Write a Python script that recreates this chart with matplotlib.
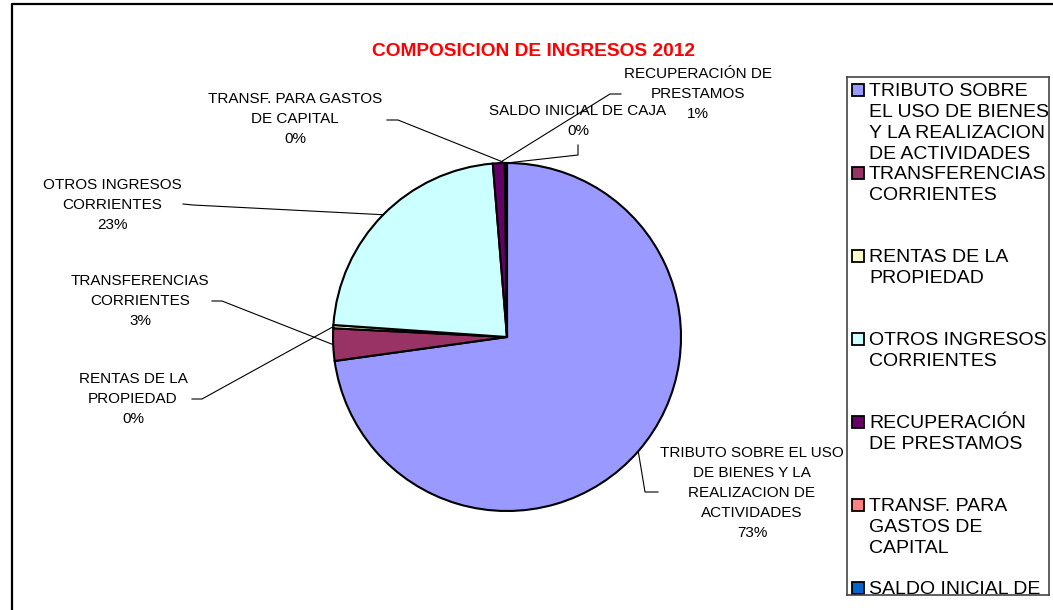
import matplotlib
matplotlib.use("Agg")
import matplotlib.pyplot as plt
from matplotlib.patches import Rectangle
import numpy as np

plt.rcParams['font.family'] = ['Liberation Sans', 'DejaVu Sans']

# data (shares of income, %)
categories = ["TRIBUTO SOBRE EL USO DE BIENES Y LA REALIZACION DE ACTIVIDADES",
              "TRANSFERENCIAS CORRIENTES",
              "RENTAS DE LA PROPIEDAD",
              "OTROS INGRESOS CORRIENTES",
              "RECUPERACIÓN DE PRESTAMOS",
              "TRANSF. PARA GASTOS DE CAPITAL",
              "SALDO INICIAL DE CAJA"]
values = [72.8, 3.0, 0.3, 22.6, 1.1, 0.1, 0.1]
colors = ["#9999FF", "#993366", "#FFFFCC", "#CCFFFF", "#660066", "#FF8080", "#0066CC"]

# wrapped texts as they appear on the chart
label_texts = ["TRIBUTO SOBRE EL USO\nDE BIENES Y LA\nREALIZACION DE\nACTIVIDADES",
               "TRANSFERENCIAS\nCORRIENTES",
               "RENTAS DE LA\nPROPIEDAD",
               "OTROS INGRESOS\nCORRIENTES",
               "RECUPERACIÓN DE\nPRESTAMOS",
               "TRANSF. PARA GASTOS\nDE CAPITAL",
               "SALDO INICIAL DE CAJA"]
legend_texts = ["TRIBUTO SOBRE\nEL USO DE BIENES\nY LA REALIZACION\nDE ACTIVIDADES",
                "TRANSFERENCIAS\nCORRIENTES",
                "RENTAS DE LA\nPROPIEDAD",
                "OTROS INGRESOS\nCORRIENTES",
                "RECUPERACIÓN\nDE PRESTAMOS",
                "TRANSF. PARA\nGASTOS DE\nCAPITAL",
                "SALDO INICIAL DE\nCAJA"]

# layout in pixels (origin top-left): label centre, then leader line points (end, elbow)
label_pos = [(752, 493), (140, 301), (133, 399), (112, 205), (698, 94), (295, 119), (578, 121)]
leader_pts = [[(658, 492), (645, 492)],
              [(212, 301), (222, 301)],
              [(192, 399), (202, 399)],
              [(183, 204), (193, 205)],
              [(621, 94), (610, 94)],
              [(387, 120), (398, 120)],
              [(578, 145), (578, 155)]]

W, H = 1053, 610
fig = plt.figure(figsize=(W / 100, H / 100), dpi=100)

# pie axes: centre (507, 337), radius 174 px
cx, cy, r = 507, 337, 174
ax = fig.add_axes([(cx - r) / W, (H - cy - r) / H, 2 * r / W, 2 * r / H])
wedges, _ = ax.pie(values, colors=colors, startangle=90, counterclock=False,
                   wedgeprops=dict(edgecolor="black", linewidth=1.5))
ax.set_xlim(-1, 1)
ax.set_ylim(-1, 1)
ax.set_aspect("equal")

# overlay in pixel coordinates for frame, title, labels
ov = fig.add_axes([0, 0, 1, 1], zorder=5)
ov.set_xlim(0, W)
ov.set_ylim(H, 0)
ov.axis("off")
ov.patch.set_alpha(0)

ov.plot([12, 12, W], [H, 4, 4], color="black", lw=1.6, solid_capstyle="butt")
ov.text(533, 52, "COMPOSICION DE INGRESOS 2012", color="red", fontsize=13.8,
        fontweight="bold", ha="center", va="center")

total = sum(values)
to_ov = ov.transData.inverted()
for w, txt, pos, pts, v in zip(wedges, label_texts, label_pos, leader_pts, values):
    mid = np.deg2rad((w.theta1 + w.theta2) / 2)
    edge = to_ov.transform(ax.transData.transform((np.cos(mid), np.sin(mid))))
    xs = [pts[0][0], pts[1][0], edge[0]]
    ys = [pts[0][1], pts[1][1], edge[1]]
    ov.plot(xs, ys, color="black", lw=0.8)
    pct = f"{round(v / total * 100):.0f}%"
    ov.text(pos[0], pos[1], txt + "\n" + pct, fontsize=11, ha="center",
            va="center", multialignment="center", linespacing=1.55, color="black")

# legend box, clipped at the bottom like the original
lx0, ly0, lx1, ly1 = 847, 77, 1049, 595
lg = fig.add_axes([lx0 / W, (H - ly1) / H, (lx1 - lx0) / W, (ly1 - ly0) / H], zorder=6)
lg.set_xlim(0, lx1 - lx0)
lg.set_ylim(ly1 - ly0, 0)
lg.set_xticks([])
lg.set_yticks([])
for s in lg.spines.values():
    s.set_color("#444444")
    s.set_linewidth(1.2)

step = 83
for i, (txt, col) in enumerate(zip(legend_texts, colors)):
    yc = 13 + i * step
    lg.add_patch(Rectangle((5, yc - 6), 12, 12, facecolor=col, edgecolor="black",
                           lw=1.3, clip_on=True))
    lg.text(22, yc - 7, txt, fontsize=14, ha="left", va="top", linespacing=1.32,
            clip_on=True, color="black")

fig.savefig("out.png", dpi=100)
